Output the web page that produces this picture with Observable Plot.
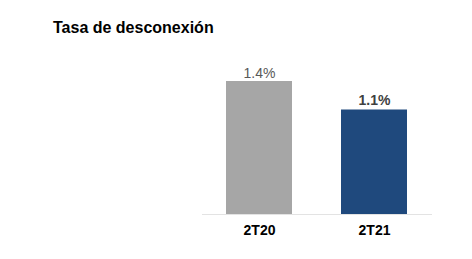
<!DOCTYPE html>
<html>
<head>
<meta charset="utf-8">
<script src="https://cdn.jsdelivr.net/npm/d3@7"></script>
<script src="https://cdn.jsdelivr.net/npm/@observablehq/plot@0.6"></script>
<style>
  html, body { margin: 0; padding: 0; background: #fff; }
  #wrap { position: relative; width: 472px; height: 259px; font-family: "Liberation Sans", Arial, sans-serif; }
  #title { position: absolute; left: 53px; top: 19px; font-size: 16px; line-height: 18px; font-weight: bold; color: #000; white-space: nowrap; }
  #chart { position: absolute; left: 0; top: 0; }
</style>
</head>
<body>
<div id="wrap">
  <div id="chart"></div>
  <div id="title">Tasa de desconexión</div>
</div>
<script>
const categories = ["2T20", "2T21"];
const values = [1.4, 1.1];
const valueLabels = ["1.4%", "1.1%"];
const barColors = ["#a6a6a6", "#1f497d"];

const data = categories.map((c, i) => ({ cat: c, value: values[i], label: valueLabels[i] }));

const chart = Plot.plot({
  width: 472,
  height: 259,
  marginLeft: 202,
  marginRight: 40,
  marginTop: 62,
  marginBottom: 45,
  style: { fontFamily: "Liberation Sans, Arial, sans-serif", background: "transparent" },
  x: { domain: categories, paddingInner: 0.426, paddingOuter: 0.213, label: null },
  y: { domain: [0, 1.6], axis: null },
  color: { domain: categories, range: barColors },
  marks: [
    Plot.barY(data, { x: "cat", y: "value", fill: "cat" }),
    Plot.ruleY([0], { stroke: "#e3e3e3", strokeWidth: 1 }),
    Plot.text(data.filter(d => d.cat === categories[0]), {
      x: "cat", y: "value", text: "label", lineAnchor: "bottom", dy: -4,
      fontSize: 14, fill: "#595959"
    }),
    Plot.text(data.filter(d => d.cat === categories[1]), {
      x: "cat", y: "value", text: "label", lineAnchor: "bottom", dy: -5,
      fontSize: 14, fontWeight: "bold", fill: "#404040"
    }),
    Plot.axisX({ tickSize: 0, tickPadding: 11, fontSize: 14, fontWeight: "bold", fill: "#000", label: null })
  ]
});
document.getElementById("chart").appendChild(chart);
</script>
</body>
</html>
